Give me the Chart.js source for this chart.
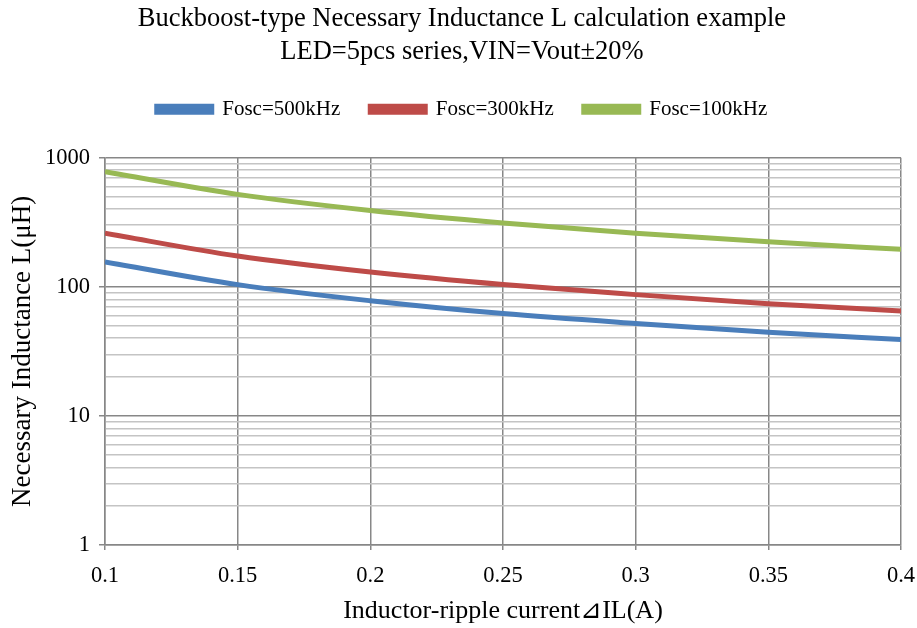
<!DOCTYPE html>
<html>
<head>
<meta charset="utf-8">
<script src="https://cdn.jsdelivr.net/npm/chart.js@4"></script>
<style>
  html, body { margin: 0; padding: 0; background: #fff; }
  #wrap { width: 917px; height: 628px; }
</style>
</head>
<body>
<div id="wrap"><canvas id="graphe"></canvas></div>
<script>
// donnees
const courants = [0.1, 0.15, 0.2, 0.25, 0.3, 0.35, 0.4];
const fosc500 = [156, 104, 78, 62, 52, 44.5, 39];
const fosc300 = [260, 173, 130, 104, 87, 74, 65];
const fosc100 = [780, 520, 390, 312, 260, 223, 195];
const nomsSeries = ["Fosc=500kHz", "Fosc=300kHz", "Fosc=100kHz"];
const ticksY = [1, 10, 100, 1000];

const police = "'Liberation Serif', 'Times New Roman', serif";

function points(valeurs) {
  return courants.map((x, i) => ({ x: x, y: valeurs[i] }));
}

function estMajeur(v) {
  return ticksY.includes(v);
}

// espace en plus sous la legende
const espaceLegende = {
  id: "espaceLegende",
  beforeInit(chart) {
    const fitOrig = chart.legend.fit;
    chart.legend.fit = function () {
      fitOrig.bind(chart.legend)();
      this.height += 28;
    };
  }
};

const canvas = document.getElementById("graphe");

const config = {
  type: "line",
  data: {
    datasets: [
      {
        label: nomsSeries[0],
        data: points(fosc500),
        borderColor: "#4A7EBB",
        backgroundColor: "#4A7EBB",
        borderWidth: 5,
        pointRadius: 0,
        cubicInterpolationMode: "monotone"
      },
      {
        label: nomsSeries[1],
        data: points(fosc300),
        borderColor: "#BE4B48",
        backgroundColor: "#BE4B48",
        borderWidth: 5,
        pointRadius: 0,
        cubicInterpolationMode: "monotone"
      },
      {
        label: nomsSeries[2],
        data: points(fosc100),
        borderColor: "#98B954",
        backgroundColor: "#98B954",
        borderWidth: 5,
        pointRadius: 0,
        cubicInterpolationMode: "monotone"
      }
    ]
  },
  options: {
    responsive: true,
    maintainAspectRatio: false,
    animation: false,
    layout: {
      padding: { left: 7, right: 0, top: 0, bottom: 1 }
    },
    scales: {
      x: {
        type: "linear",
        min: 0.1,
        max: 0.4,
        afterFit: function (axe) {
          axe.height = 82;
          axe.paddingRight = 16;
        },
        ticks: {
          stepSize: 0.05,
          color: "#000",
          font: { family: police, size: 22.5 },
          padding: 13,
          callback: function (v) {
            return String(Number(v.toFixed(2)));
          }
        },
        grid: {
          color: "#878787",
          lineWidth: 1.5,
          tickLength: 5,
          tickColor: "#878787"
        },
        border: { color: "#878787", width: 1.5 },
        title: {
          display: true,
          text: "Inductor-ripple current⊿IL(A)",
          color: "#000",
          font: { family: police, size: 26 },
          padding: { top: 0, bottom: 0 }
        }
      },
      y: {
        type: "logarithmic",
        min: 1,
        max: 1000,
        afterBuildTicks: function (axe) {
          const liste = [];
          for (let d = 1; d < 1000; d *= 10) {
            for (let k = 1; k < 10; k++) liste.push({ value: k * d });
          }
          liste.push({ value: 1000 });
          axe.ticks = liste;
        },
        afterFit: function (axe) {
          axe.width = 98;
        },
        ticks: {
          autoSkip: false,
          color: "#000",
          font: { family: police, size: 22.5 },
          padding: 9,
          callback: function (v) {
            return estMajeur(v) ? String(v) : "";
          }
        },
        grid: {
          color: function (ctx) {
            return estMajeur(ctx.tick.value) ? "#878787" : "#C4C4C4";
          },
          lineWidth: 1.5,
          tickLength: 6,
          tickColor: function (ctx) {
            return estMajeur(ctx.tick.value) ? "#878787" : "rgba(0,0,0,0)";
          }
        },
        border: { color: "#878787", width: 1.5 },
        title: {
          display: true,
          text: "Necessary Inductance L(μH)",
          color: "#000",
          font: { family: police, size: 27 },
          padding: { top: 0, bottom: 0 }
        }
      }
    },
    plugins: {
      title: {
        display: true,
        text: ["Buckboost-type Necessary Inductance L calculation example", "LED=5pcs series,VIN=Vout±20%"],
        color: "#000",
        font: { family: police, size: 26.5, weight: "normal", lineHeight: 1.24 },
        padding: { top: 3, bottom: 0 }
      },
      legend: {
        position: "top",
        labels: {
          color: "#000",
          font: { family: police, size: 21 },
          boxWidth: 55,
          boxHeight: 6,
          padding: 30
        }
      },
      tooltip: { enabled: false }
    }
  },
  plugins: [espaceLegende]
};

const monGraphique = new Chart(canvas, config);
</script>
</body>
</html>
